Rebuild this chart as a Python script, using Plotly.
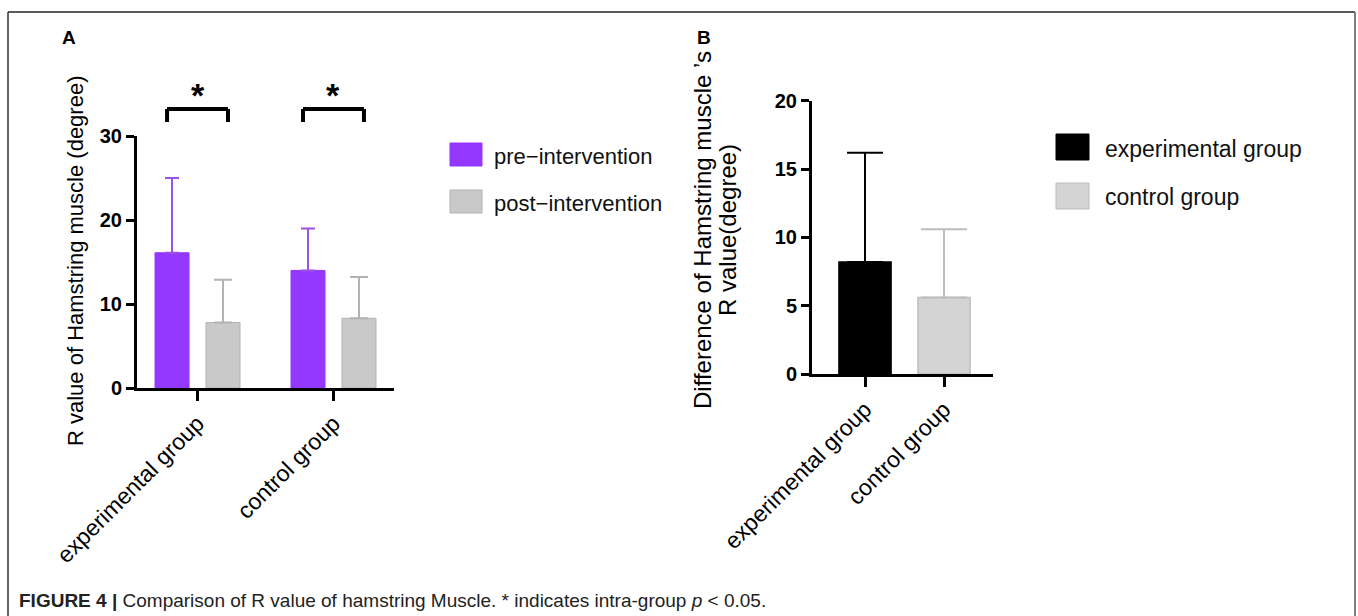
import plotly.graph_objects as go

# ---------------- data ----------------
groups = ["experimental group", "control group"]
series_a = ["pre\u2212intervention", "post\u2212intervention"]
pre_mean = [16.1, 14.0]
pre_sd = [8.9, 5.0]
post_mean = [7.8, 8.3]
post_sd = [5.1, 4.9]
yticks_a = [0, 10, 20, 30]
sig_labels = ["*", "*"]

diff_names = ["experimental group", "control group"]
diff_mean = [8.2, 5.6]
diff_sd = [8.0, 5.0]
yticks_b = [0, 5, 10, 15, 20]

W, H = 1358, 616
def px(x):
    return x / W
def py(y):
    return 1 - y / H

FONT = "Liberation Sans, Arial, sans-serif"
PURPLE = "#9437FF"
PURPLE_ERR = "#9B52E6"
GRAY_A = "#C9C9C9"
GRAY_A_LINE = "#B3B3B3"
GRAY_B = "#D4D4D4"
GRAY_B_LINE = "#BDBDBD"

fig = go.Figure()

# Panel A bars
fig.add_trace(go.Bar(
    x=groups, y=pre_mean, name=series_a[0], xaxis="x", yaxis="y",
    width=0.25, offset=-0.3125,
    marker=dict(color=PURPLE, line=dict(color=PURPLE, width=1)),
    error_y=dict(type="data", symmetric=False, array=pre_sd, arrayminus=[0] * len(pre_sd),
                 color=PURPLE_ERR, thickness=2, width=7),
    showlegend=False,
))
fig.add_trace(go.Bar(
    x=groups, y=post_mean, name=series_a[1], xaxis="x", yaxis="y",
    width=0.25, offset=0.0625,
    marker=dict(color=GRAY_A, line=dict(color=GRAY_A_LINE, width=1)),
    error_y=dict(type="data", symmetric=False, array=post_sd, arrayminus=[0] * len(post_sd),
                 color=GRAY_A_LINE, thickness=2, width=9),
    showlegend=False,
))

# Panel B bars
b_colors = ["#000000", GRAY_B]
b_lines = ["#000000", GRAY_B_LINE]
b_capw = [18, 23]
for i, nm in enumerate(diff_names):
    fig.add_trace(go.Bar(
        x=[nm], y=[diff_mean[i]], name=nm, xaxis="x2", yaxis="y2",
        width=0.66, offset=-0.33,
        marker=dict(color=b_colors[i], line=dict(color=b_lines[i], width=1.5)),
        error_y=dict(type="data", symmetric=False, array=[diff_sd[i]], arrayminus=[0],
                     color=b_lines[i], thickness=2, width=b_capw[i]),
        showlegend=False,
    ))

axis_common = dict(showgrid=False, zeroline=False, showline=True, linecolor="black",
                   linewidth=3, ticks="outside", tickcolor="black", tickwidth=3,
                   automargin=False, fixedrange=True)

fig.update_layout(
    template="none",
    width=W, height=H,
    autosize=False,
    margin=dict(l=0, r=0, t=0, b=0, pad=0, autoexpand=False),
    paper_bgcolor="white", plot_bgcolor="white",
    barmode="overlay",
    showlegend=False,
    font=dict(family=FONT, color="black"),
    xaxis=dict(domain=[px(137), px(394)], range=[-0.445, 1.445], anchor="y",
               type="category", ticklen=10, tickangle=-45,
               tickfont=dict(family=FONT, size=23, color="black"), **axis_common),
    yaxis=dict(domain=[py(388), py(136)], range=[0, 30], anchor="x",
               tickvals=yticks_a, ticklen=8,
               tickfont=dict(family=FONT, size=20, color="black", weight="bold"), **axis_common),
    xaxis2=dict(domain=[px(812), px(993)], range=[-0.671, 1.62], anchor="y2",
                type="category", ticklen=10, tickangle=-45,
                tickfont=dict(family=FONT, size=23, color="black"), **axis_common),
    yaxis2=dict(domain=[py(374), py(100.7)], range=[0, 20], anchor="x2",
                tickvals=yticks_b, ticklen=8,
                tickfont=dict(family=FONT, size=20, color="black", weight="bold"), **axis_common),
)

shapes = []
annotations = []

# significance brackets (panel A)
for gi, lab in enumerate(sig_labels):
    xl, xr = gi - 0.224, gi + 0.224
    ytop, ybot = py(109), py(122)
    for (x0, y0, x1, y1) in [(xl, ybot, xl, ytop), (xl, ytop, xr, ytop), (xr, ytop, xr, ybot)]:
        shapes.append(dict(type="line", xref="x", yref="paper", x0=x0, x1=x1, y0=y0, y1=y1,
                           line=dict(color="black", width=4)))
    annotations.append(dict(xref="x", yref="paper", x=gi, y=py(95), text="<b>%s</b>" % lab,
                            showarrow=False, font=dict(family=FONT, size=34, color="black"),
                            xanchor="center", yanchor="middle"))

# manual legends
leg_a = [(series_a[0], PURPLE, PURPLE, 143, 166, 156), (series_a[1], GRAY_A, GRAY_A_LINE, 190, 213, 203)]
for name, fc, lc, y0, y1, yt in leg_a:
    shapes.append(dict(type="rect", xref="paper", yref="paper", x0=px(450), x1=px(482),
                       y0=py(y1), y1=py(y0), fillcolor=fc, line=dict(color=lc, width=1)))
    annotations.append(dict(xref="paper", yref="paper", x=px(492), y=py(yt), text=name,
                            showarrow=False, xanchor="left", yanchor="middle",
                            font=dict(family=FONT, size=22, color="#111111")))
leg_b = [(diff_names[0], "#000000", "#000000", 134, 160, 149), (diff_names[1], GRAY_B, GRAY_B_LINE, 183, 209, 197)]
for name, fc, lc, y0, y1, yt in leg_b:
    shapes.append(dict(type="rect", xref="paper", yref="paper", x0=px(1056), x1=px(1089),
                       y0=py(y1), y1=py(y0), fillcolor=fc, line=dict(color=lc, width=1)))
    annotations.append(dict(xref="paper", yref="paper", x=px(1103), y=py(yt), text=name,
                            showarrow=False, xanchor="left", yanchor="middle",
                            font=dict(family=FONT, size=23, color="#111111")))

# axis titles
annotations.append(dict(xref="paper", yref="paper", x=px(75), y=py(261),
                        text="R value of Hamstring muscle (degree)", textangle=-90,
                        showarrow=False, xanchor="center", yanchor="middle",
                        font=dict(family=FONT, size=22, color="black")))
annotations.append(dict(xref="paper", yref="paper", x=px(702), y=py(230),
                        text="Difference of Hamstring muscle \u2019s", textangle=-90,
                        showarrow=False, xanchor="center", yanchor="middle",
                        font=dict(family=FONT, size=24, color="black")))
annotations.append(dict(xref="paper", yref="paper", x=px(727), y=py(230),
                        text="R value(degree)", textangle=-90,
                        showarrow=False, xanchor="center", yanchor="middle",
                        font=dict(family=FONT, size=24, color="black")))

# panel letters
annotations.append(dict(xref="paper", yref="paper", x=px(60), y=py(38), text="<b>A</b>",
                        showarrow=False, xanchor="left", yanchor="middle",
                        font=dict(family=FONT, size=19, color="black")))
annotations.append(dict(xref="paper", yref="paper", x=px(695), y=py(38), text="<b>B</b>",
                        showarrow=False, xanchor="left", yanchor="middle",
                        font=dict(family=FONT, size=19, color="black")))

# caption
annotations.append(dict(xref="paper", yref="paper", x=px(17), y=py(600),
                        text="<b>FIGURE 4 |</b> Comparison of R value of hamstring Muscle. * indicates intra-group <i>p</i> &lt; 0.05.",
                        showarrow=False, xanchor="left", yanchor="middle",
                        font=dict(family=FONT, size=19, color="#222222")))

# frame
shapes.append(dict(type="line", xref="paper", yref="paper", x0=px(8), x1=px(1355), y0=py(12), y1=py(12),
                   line=dict(color="#222222", width=1.5)))
shapes.append(dict(type="line", xref="paper", yref="paper", x0=px(8), x1=px(8), y0=py(12), y1=py(616),
                   line=dict(color="#333333", width=1.5)))
shapes.append(dict(type="line", xref="paper", yref="paper", x0=px(1355), x1=px(1355), y0=py(12), y1=py(616),
                   line=dict(color="#808080", width=2)))

fig.update_layout(shapes=shapes, annotations=annotations)
fig.write_html("out.html", config={"displayModeBar": False},
               post_script="document.body.style.margin='0px';document.body.style.overflow='hidden';")
